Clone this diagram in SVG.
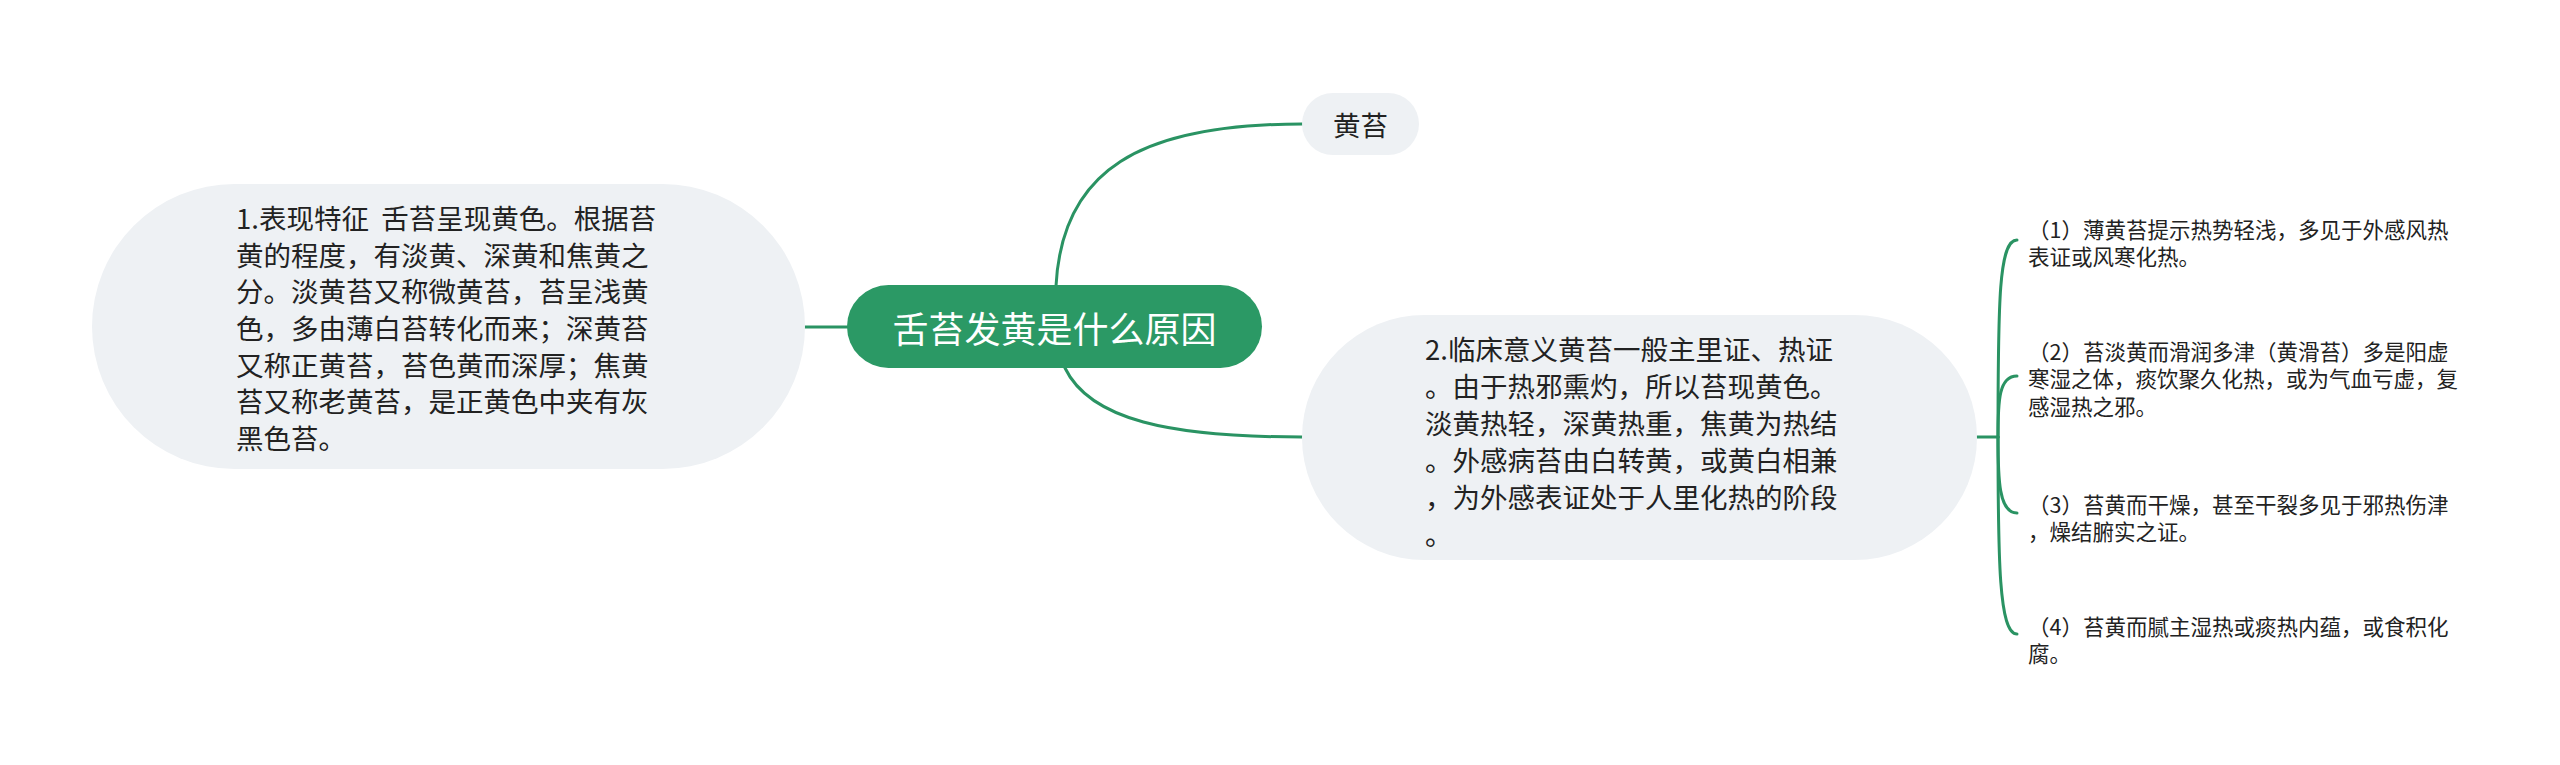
<svg xmlns="http://www.w3.org/2000/svg" width="2560" height="765" viewBox="0 0 2560 765">
<style>
.n{fill:#eef1f4}
.t{font-family:"Microsoft YaHei","Noto Sans CJK SC","Noto Sans",sans-serif;fill:#222;dominant-baseline:central;white-space:pre}
.m{font-size:27.5px}
.s{font-size:21.5px}
.c{fill:none;stroke:#2a9363;stroke-width:3;stroke-linecap:round}
</style>
<rect width="2560" height="765" fill="#ffffff"/>
<g id="connectors">
<path class="c" d="M805,327 H847"/>
<path class="c" d="M1056,286 C1062,170 1140,124 1302,124"/>
<path class="c" d="M1065,368 C1090,420 1170,437 1302,437"/>
<path class="c" d="M1977,437 H1998"/>
<path class="c" d="M1998,437 C1998,300 1999,240 2017,240"/>
<path class="c" d="M1998,437 C1998,400 1999,376 2017,376"/>
<path class="c" d="M1998,437 C1998,480 1999,513 2017,513"/>
<path class="c" d="M1998,437 C1998,560 1999,634 2017,634"/>
</g>
<g id="root">
<rect x="847" y="285" width="415" height="83" rx="41.5" fill="#2b9965"/>
<text x="1054.5" y="327" text-anchor="middle" style="font-family:'Microsoft YaHei','Noto Sans CJK SC',sans-serif;font-size:36px;fill:#ffffff;dominant-baseline:central">舌苔发黄是什么原因</text>
</g>
<g id="node-huangtai">
<rect class="n" x="1302" y="93" width="117" height="62" rx="31"/>
<text class="t m" x="1360.5" y="124" text-anchor="middle">黄苔</text>
</g>
<g id="node-1">
<rect class="n" x="92" y="184" width="713" height="285" rx="142.5"/>
<text class="t m" x="236" y="217">1.表现特征  舌苔呈现黄色。根据苔</text>
<text class="t m" x="236" y="254">黄的程度，有淡黄、深黄和焦黄之</text>
<text class="t m" x="236" y="290">分。淡黄苔又称微黄苔，苔呈浅黄</text>
<text class="t m" x="236" y="327">色，多由薄白苔转化而来；深黄苔</text>
<text class="t m" x="236" y="364">又称正黄苔，苔色黄而深厚；焦黄</text>
<text class="t m" x="236" y="400">苔又称老黄苔，是正黄色中夹有灰</text>
<text class="t m" x="236" y="437">黑色苔。</text>
</g>
<g id="node-2">
<rect class="n" x="1302" y="315" width="675" height="245" rx="122.5"/>
<text class="t m" x="1425" y="348">2.临床意义黄苔一般主里证、热证</text>
<text class="t m" x="1425" y="385">。由于热邪熏灼，所以苔现黄色。</text>
<text class="t m" x="1425" y="422">淡黄热轻，深黄热重，焦黄为热结</text>
<text class="t m" x="1425" y="459">。外感病苔由白转黄，或黄白相兼</text>
<text class="t m" x="1425" y="496">，为外感表证处于人里化热的阶段</text>
<text class="t m" x="1425" y="533">。</text>
</g>
<g id="child-1">
<text class="t s" x="2028" y="228">（1）薄黄苔提示热势轻浅，多见于外感风热</text>
<text class="t s" x="2028" y="255">表证或风寒化热。</text>
</g>
<g id="child-2">
<text class="t s" x="2028" y="350">（2）苔淡黄而滑润多津（黄滑苔）多是阳虚</text>
<text class="t s" x="2028" y="377.5">寒湿之体，痰饮聚久化热，或为气血亏虚，复</text>
<text class="t s" x="2028" y="405">感湿热之邪。</text>
</g>
<g id="child-3">
<text class="t s" x="2028" y="503">（3）苔黄而干燥，甚至干裂多见于邪热伤津</text>
<text class="t s" x="2028" y="530">，燥结腑实之证。</text>
</g>
<g id="child-4">
<text class="t s" x="2028" y="625">（4）苔黄而腻主湿热或痰热内蕴，或食积化</text>
<text class="t s" x="2028" y="652">腐。</text>
</g>
</svg>
